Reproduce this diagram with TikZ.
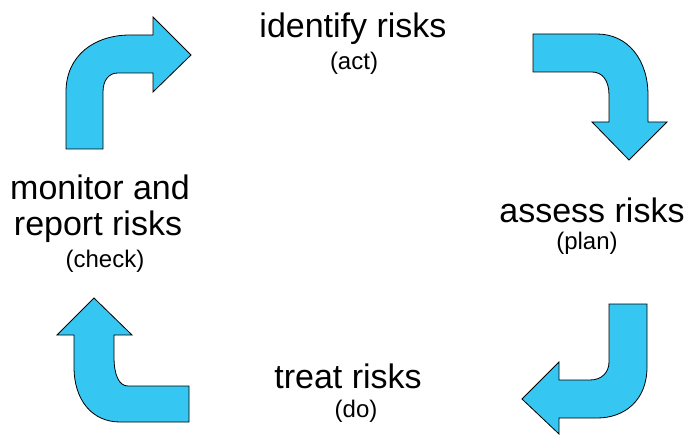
\documentclass[tikz,border=0pt]{standalone}
\usepackage{fontspec}
\setmainfont{Liberation Sans}
\usepackage{tikz}
\definecolor{arrowblue}{HTML}{36C6F2}
\tikzset{
	bentarrow/.style={fill=arrowblue,draw=black,line width=0.8pt,line join=miter},
	steplabel/.style={anchor=base,inner sep=0pt,font=\fontsize{34}{38}\selectfont},
	phaselabel/.style={anchor=base,inner sep=0pt,font=\fontsize{24}{28}\selectfont}
}

\begin{document}
\begin{tikzpicture}[x=1pt,y=-1pt]
		\useasboundingbox (0,0) rectangle (692,435);
		
		% arrows of the cycle
		\draw[bentarrow] (66,149) -- (66,92) .. controls (66,55) and (95,35) .. (130,35) -- (153,35) -- (153,17) -- (191,55) -- (153,92) -- (153,73) -- (118,73) .. controls (109,73) and (103,80) .. (103,92) -- (103,149) -- cycle;
		\draw[bentarrow] (533,34) -- (597,34) .. controls (628,34) and (648,60) .. (648,95) -- (648,122) -- (667,122) -- (629,160) -- (592,122) -- (609,122) -- (609,95) .. controls (609,80) and (602,72) .. (592,72) -- (533,72) -- cycle;
		\draw[bentarrow] (609,304) -- (647,304) -- (647,367) .. controls (647,400) and (625,418) .. (597,418) -- (559,418) -- (559,434) -- (522,399) -- (559,362) -- (559,380) -- (590,380) .. controls (602,380) and (609,372) .. (609,362) -- cycle;
		\draw[bentarrow] (189,386) -- (189,422) -- (120,422) .. controls (92,422) and (74,400) .. (74,367) -- (74,335) -- (57,335) -- (94,298) -- (132,335) -- (114,335) -- (114,357) .. controls (114,375) and (119,386) .. (128,386) -- cycle;
		
		% labels
		\node[steplabel] (identify) at (353,38) {identify risks};
		\node[phaselabel] (act) at (354,70) {(act)};
		
		\node[steplabel] (assess) at (592,223) {assess risks};
		\node[phaselabel] (plan) at (587,250) {(plan)};
		
		\node[steplabel] (monitor) at (100,200) {monitor and};
		\node[steplabel] (report) at (98,236) {report risks};
		\node[phaselabel] (check) at (105,267) {(check)};
		
		\node[steplabel] (treat) at (348,388) {treat risks};
		\node[phaselabel] (do) at (356,417) {(do)};
	\end{tikzpicture}
\end{document}
